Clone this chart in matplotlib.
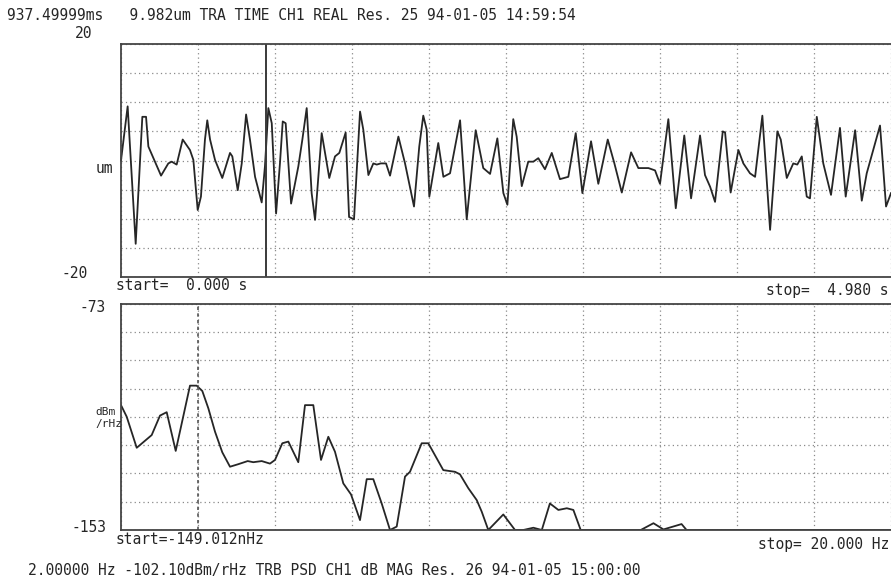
import numpy as np
import matplotlib
matplotlib.use("Agg")
import matplotlib.pyplot as plt

# time trace (s, um)
t_sec = [0.000, 0.043, 0.095, 0.138, 0.162, 0.177, 0.215, 0.259, 0.306, 0.328,
         0.360, 0.399, 0.446, 0.468, 0.496, 0.517, 0.543, 0.558, 0.576, 0.608,
         0.655, 0.705, 0.720, 0.755, 0.781, 0.809, 0.834, 0.867, 0.910, 0.931,
         0.953, 0.975, 1.003, 1.028, 1.046, 1.065, 1.100, 1.147, 1.173, 1.201,
         1.233, 1.255, 1.298, 1.347, 1.384, 1.412, 1.453, 1.475, 1.507, 1.546,
         1.567, 1.600, 1.632, 1.654, 1.680, 1.714, 1.740, 1.794, 1.837, 1.895,
         1.929, 1.955, 1.977, 1.994, 2.052, 2.085, 2.128, 2.193, 2.236, 2.294,
         2.343, 2.387, 2.434, 2.473, 2.499, 2.537, 2.559, 2.592, 2.634, 2.667,
         2.699, 2.742, 2.786, 2.839, 2.893, 2.941, 2.984, 3.040, 3.087, 3.148,
         3.191, 3.239, 3.299, 3.346, 3.411, 3.454, 3.486, 3.540, 3.588, 3.643,
         3.687, 3.745, 3.777, 3.810, 3.842, 3.892, 3.907, 3.943, 3.993, 4.025,
         4.068, 4.101, 4.148, 4.198, 4.245, 4.267, 4.306, 4.348, 4.374, 4.403,
         4.435, 4.456, 4.500, 4.542, 4.592, 4.650, 4.687, 4.748, 4.791, 4.823,
         4.909, 4.948, 4.980]
disp_um = [0.0, 9.3, -14.3, 7.5, 7.5, 2.4, 0.1, -2.6, -0.5, -0.2,
           -0.7, 3.6, 1.8, 0.1, -8.5, -6.2, 3.6, 6.9, 3.6, 0.1,
           -3.0, 1.3, 0.7, -5.1, -0.5, 7.9, 3.6, -2.8, -7.2, -1.0,
           9.0, 6.4, -9.1, -0.5, 6.7, 6.4, -7.4, -1.0, 3.6, 9.0,
           -5.6, -10.2, 4.7, -3.0, 0.7, 1.3, 4.8, -9.7, -10.1, 8.4,
           5.3, -2.5, -0.5, -0.7, -0.5, -0.5, -2.6, 4.1, -0.5, -7.9,
           2.4, 7.7, 5.3, -6.2, 3.0, -2.8, -2.2, 6.9, -10.1, 5.2,
           -1.3, -2.3, 3.8, -5.6, -7.6, 7.1, 4.1, -4.4, -0.2, -0.2,
           0.4, -1.5, 1.3, -3.2, -2.8, 4.7, -5.6, 3.3, -4.0, 3.6,
           -0.5, -5.5, 1.4, -1.3, -1.3, -1.7, -4.0, 7.1, -8.2, 4.3,
           -6.5, 4.3, -2.5, -4.5, -7.1, 5.0, 4.8, -5.5, 1.8, -0.5,
           -2.2, -2.8, 7.7, -11.9, 5.0, 3.6, -3.0, -0.5, -0.7, 0.7,
           -6.2, -6.5, 7.5, -0.5, -5.9, 5.6, -6.2, 5.2, -6.9, -2.2,
           6.0, -7.9, -5.6]

# PSD trace (Hz, dBm/rHz)
f_hz = [0.000, 0.148, 0.408, 0.797, 1.013, 1.187, 1.421, 1.792, 1.966, 2.112,
        2.268, 2.442, 2.631, 2.831, 3.047, 3.291, 3.436, 3.655, 3.870, 4.000,
        4.190, 4.346, 4.605, 4.779, 4.995, 5.195, 5.385, 5.558, 5.774, 5.974,
        6.208, 6.382, 6.553, 6.771, 6.987, 7.161, 7.377, 7.506, 7.810, 7.982,
        8.371, 8.675, 8.805, 9.021, 9.239, 9.369, 9.540, 9.930, 10.234, 10.450,
        10.710, 10.930, 11.140, 11.360, 11.580, 11.750, 11.940, 13.500, 13.830, 14.090,
        14.560, 14.690, 20.000]
psd_db = [-108.8, -112.9, -123.9, -119.4, -112.5, -111.3, -125.0, -101.9, -101.9, -103.8,
          -109.9, -118.2, -125.5, -130.6, -129.7, -128.6, -129.0, -128.6, -129.5, -128.2,
          -122.3, -121.7, -129.0, -108.8, -108.8, -128.2, -120.0, -125.3, -136.5, -140.4,
          -149.5, -135.0, -135.0, -143.6, -153.0, -151.8, -134.1, -132.4, -122.3, -122.3,
          -131.8, -132.4, -133.3, -138.2, -142.4, -146.5, -153.0, -147.5, -153.0, -153.0,
          -152.2, -153.0, -143.6, -145.9, -145.3, -145.9, -153.0, -153.0, -150.6, -152.8,
          -150.9, -153.0, -153.0]

W, H = 891, 578
fig = plt.figure(figsize=(W / 100, H / 100), dpi=100)
fig.patch.set_facecolor("white")

ink = "#262626"
grid_c = "#8a8a8a"
mono = "DejaVu Sans Mono"


def px(x, y):
    return x / W, 1 - y / H


def label(x, y, s, ha="left", size=10.5):
    fig.text(*px(x, y), s, ha=ha, va="center", family=mono, size=size, color=ink)


def style(ax, xlim, ylim):
    ax.set_xlim(*xlim)
    ax.set_ylim(*ylim)
    ax.set_xticks(np.linspace(xlim[0], xlim[1], 11))
    ax.set_yticks(np.linspace(ylim[0], ylim[1], 9))
    ax.tick_params(length=0, labelbottom=False, labelleft=False)
    ax.grid(True, color=grid_c, linestyle=(0, (1, 2.5)), linewidth=0.9)
    ax.spines["right"].set_visible(False)
    for s in ("top", "left", "bottom"):
        ax.spines[s].set_color("#444444")
        ax.spines[s].set_linewidth(1.3)


ax1 = fig.add_axes([121 / W, 1 - 277 / H, 770 / W, 233 / H])
style(ax1, (0, 4.98), (-20, 20))
ax1.plot(t_sec, disp_um, color=ink, lw=1.3, clip_on=False)
ax1.axvline(0.9375, color="#3a3a3a", lw=1.4)

ax2 = fig.add_axes([121 / W, 1 - 530 / H, 770 / W, 226 / H])
style(ax2, (0, 20), (-153, -73))
ax2.plot(f_hz, psd_db, color=ink, lw=1.3)
ax2.axvline(2.0, color="#555555", lw=1.2, linestyle=(0, (2, 2)))

# printer annotations
label(7, 16, "937.49999ms   9.982um TRA TIME CH1 REAL Res. 25 94-01-05 14:59:54")
label(92, 34, "20", ha="right")
label(96, 169, "um")
label(88, 274, "-20", ha="right")
label(116, 286, "start=  0.000 s")
label(889, 290, "stop=  4.980 s", ha="right")
label(106, 308, "-73", ha="right")
label(95, 418, "dBm\n/rHz", size=8)
label(106, 527, "-153", ha="right")
label(116, 539, "start=-149.012nHz")
label(889, 544, "stop= 20.000 Hz", ha="right")
label(28, 571, "2.00000 Hz -102.10dBm/rHz TRB PSD CH1 dB MAG Res. 26 94-01-05 15:00:00")

fig.savefig("out.png", dpi=100, facecolor="white")
